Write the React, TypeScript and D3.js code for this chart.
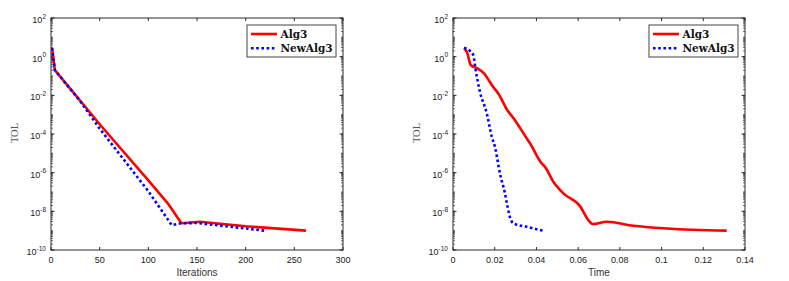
import React, { useEffect } from 'react';
import * as d3 from 'd3';

// left panel: TOL vs iterations
const iterAlg3X = [1, 4, 50, 100, 120, 134, 153, 200, 262];
const iterAlg3Y = [2.8, 0.2, 3.2e-4, 4e-7, 2.6e-8, 2.4e-9, 2.9e-9, 1.7e-9, 1.0e-9];
const iterNewX = [1, 4, 30, 50, 100, 124, 133, 150, 200, 219];
const iterNewY = [2.8, 0.2, 5e-3, 1.9e-4, 1.1e-7, 1.95e-9, 2.4e-9, 2.5e-9, 1.3e-9, 1.0e-9];

// right panel: TOL vs time
const timeAlg3X = [0.0053, 0.0068, 0.0085, 0.0117, 0.0145, 0.0195, 0.0217, 0.026, 0.0297, 0.0353, 0.0369,
  0.0425, 0.0441, 0.0481, 0.0529, 0.0609, 0.0649, 0.067, 0.0737, 0.0865, 0.1025, 0.1312];
const timeAlg3Y = [2.7, 1.6, 0.37, 0.25, 0.15, 0.025, 0.0126, 1.74e-3, 5.2e-4, 6.0e-5, 3.3e-5,
  3.0e-6, 2.0e-6, 3.4e-7, 8.5e-8, 1.86e-8, 3.5e-9, 2.2e-9, 2.9e-9, 1.8e-9, 1.3e-9, 1.0e-9];
const timeNewX = [0.0053, 0.0081, 0.0097, 0.011, 0.0129, 0.0162, 0.0186, 0.0201, 0.0225, 0.0249, 0.026,
  0.0273, 0.0289, 0.0353, 0.043];
const timeNewY = [2.9, 2.0, 1.23, 0.166, 0.0155, 1.17e-3, 7.2e-5, 2.2e-5, 9.3e-7, 8.5e-8, 2.1e-8,
  5e-9, 2.4e-9, 1.6e-9, 1.0e-9];

const iterTicks = [0, 50, 100, 150, 200, 250, 300];
const timeTicks = [0, 0.02, 0.04, 0.06, 0.08, 0.1, 0.12, 0.14];
const yExponents = [2, 0, -2, -4, -6, -8, -10];
const seriesNames = ['Alg3', 'NewAlg3'];

const TOP = 18;
const BOTTOM = 250;
const AXIS = '#2b2b2b';

type PanelProps = {
  left: number;
  right: number;
  xMax: number;
  xTicks: number[];
  xLabel: string;
  a: [number[], number[]];
  b: [number[], number[]];
  id: string;
  smooth?: boolean;
};

const Panel = ({ left, right, xMax, xTicks, xLabel, a, b, id, smooth }: PanelProps) => {
  const x = d3.scaleLinear().domain([0, xMax]).range([left, right]);
  const y = d3.scaleLog().domain([1e-10, 1e2]).range([BOTTOM, TOP]);
  const line = d3.line<[number, number]>().x(d => x(d[0])).y(d => y(d[1]))
    .curve(smooth ? d3.curveMonotoneX : d3.curveLinear);
  const pts = (s: [number[], number[]]) => s[0].map((v, i) => [v, s[1][i]] as [number, number]);

  // minor ticks on the log axis: 1..9 per decade
  const minor: number[] = [];
  for (let e = -10; e < 2; e++) for (let k = 1; k < 10; k++) minor.push(k * Math.pow(10, e));

  const lx = right - 96;
  const ly = 25;

  return (
    <g>
      <defs>
        <clipPath id={id}>
          <rect x={left} y={TOP} width={right - left} height={BOTTOM - TOP} />
        </clipPath>
      </defs>
      <rect x={left} y={TOP} width={right - left} height={BOTTOM - TOP} fill="#fff" stroke={AXIS} strokeWidth={1} />
      {minor.map((v, i) => (
        <g key={i} stroke={AXIS} strokeWidth={0.7}>
          <line x1={left} x2={left + 2} y1={y(v)} y2={y(v)} />
          <line x1={right} x2={right - 2} y1={y(v)} y2={y(v)} />
        </g>
      ))}
      {yExponents.map(e => (
        <g key={e}>
          <line x1={left} x2={left + 3.5} y1={y(Math.pow(10, e))} y2={y(Math.pow(10, e))} stroke={AXIS} />
          <line x1={right} x2={right - 3.5} y1={y(Math.pow(10, e))} y2={y(Math.pow(10, e))} stroke={AXIS} />
          <text x={left - 5} y={y(Math.pow(10, e)) + 5} textAnchor="end" fontFamily="Liberation Sans, Arial"
            fontSize={9} fill="#222">
            <tspan>10</tspan>
            <tspan dy={-4.5} fontSize={6.5}>{e}</tspan>
          </text>
        </g>
      ))}
      {xTicks.map(t => (
        <g key={t}>
          <line x1={x(t)} x2={x(t)} y1={BOTTOM} y2={BOTTOM - 3} stroke={AXIS} />
          <line x1={x(t)} x2={x(t)} y1={TOP} y2={TOP + 3} stroke={AXIS} />
          <text x={x(t)} y={263} textAnchor="middle" fontFamily="Liberation Sans, Arial" fontSize={9} fill="#222">
            {String(t)}
          </text>
        </g>
      ))}
      <g clipPath={`url(#${id})`} fill="none">
        <path d={line(pts(a)) || ''} stroke="#ff0000" strokeWidth={2.6} strokeLinejoin="round" />
        <path d={line(pts(b)) || ''} stroke="#0000ff" strokeWidth={2.6} strokeDasharray="2.6 2.6" />
      </g>
      <text x={(left + right) / 2} y={276} textAnchor="middle" fontFamily="Liberation Sans, Arial" fontSize={10}
        fill="#333">{xLabel}</text>
      <text transform={`translate(${left - 33},133) rotate(-90)`} textAnchor="middle"
        fontFamily="Liberation Serif, serif" fontSize={10.5} fill="#555">TOL</text>
      <rect x={lx} y={ly} width={89} height={32} fill="#fff" stroke="#444" strokeWidth={1} />
      <line x1={lx + 4} x2={lx + 30} y1={ly + 9} y2={ly + 9} stroke="#ff0000" strokeWidth={2.6} />
      <line x1={lx + 4} x2={lx + 30} y1={ly + 23.3} y2={ly + 23.3} stroke="#0000ff" strokeWidth={2.6}
        strokeDasharray="2.6 2.6" />
      {seriesNames.map((n, i) => (
        <text key={n} x={lx + 33.5} y={ly + 9 + i * 14.3 + 4} fontFamily="DejaVu Serif, serif" fontWeight="bold"
          fontSize={10.5} fill="#111">{n}</text>
      ))}
    </g>
  );
};

export default function App() {
  useEffect(() => {
    document.body.style.margin = '0';
  }, []);
  return (
    <svg width={789} height={281} style={{ display: 'block', background: '#fff' }}>
      <Panel id="c1" left={51} right={343} xMax={300} xTicks={iterTicks} xLabel="Iterations"
        a={[iterAlg3X, iterAlg3Y]} b={[iterNewX, iterNewY]} />
      <Panel id="c2" left={453} right={745} xMax={0.14} xTicks={timeTicks} xLabel="Time"
        a={[timeAlg3X, timeAlg3Y]} b={[timeNewX, timeNewY]} smooth />
    </svg>
  );
}
